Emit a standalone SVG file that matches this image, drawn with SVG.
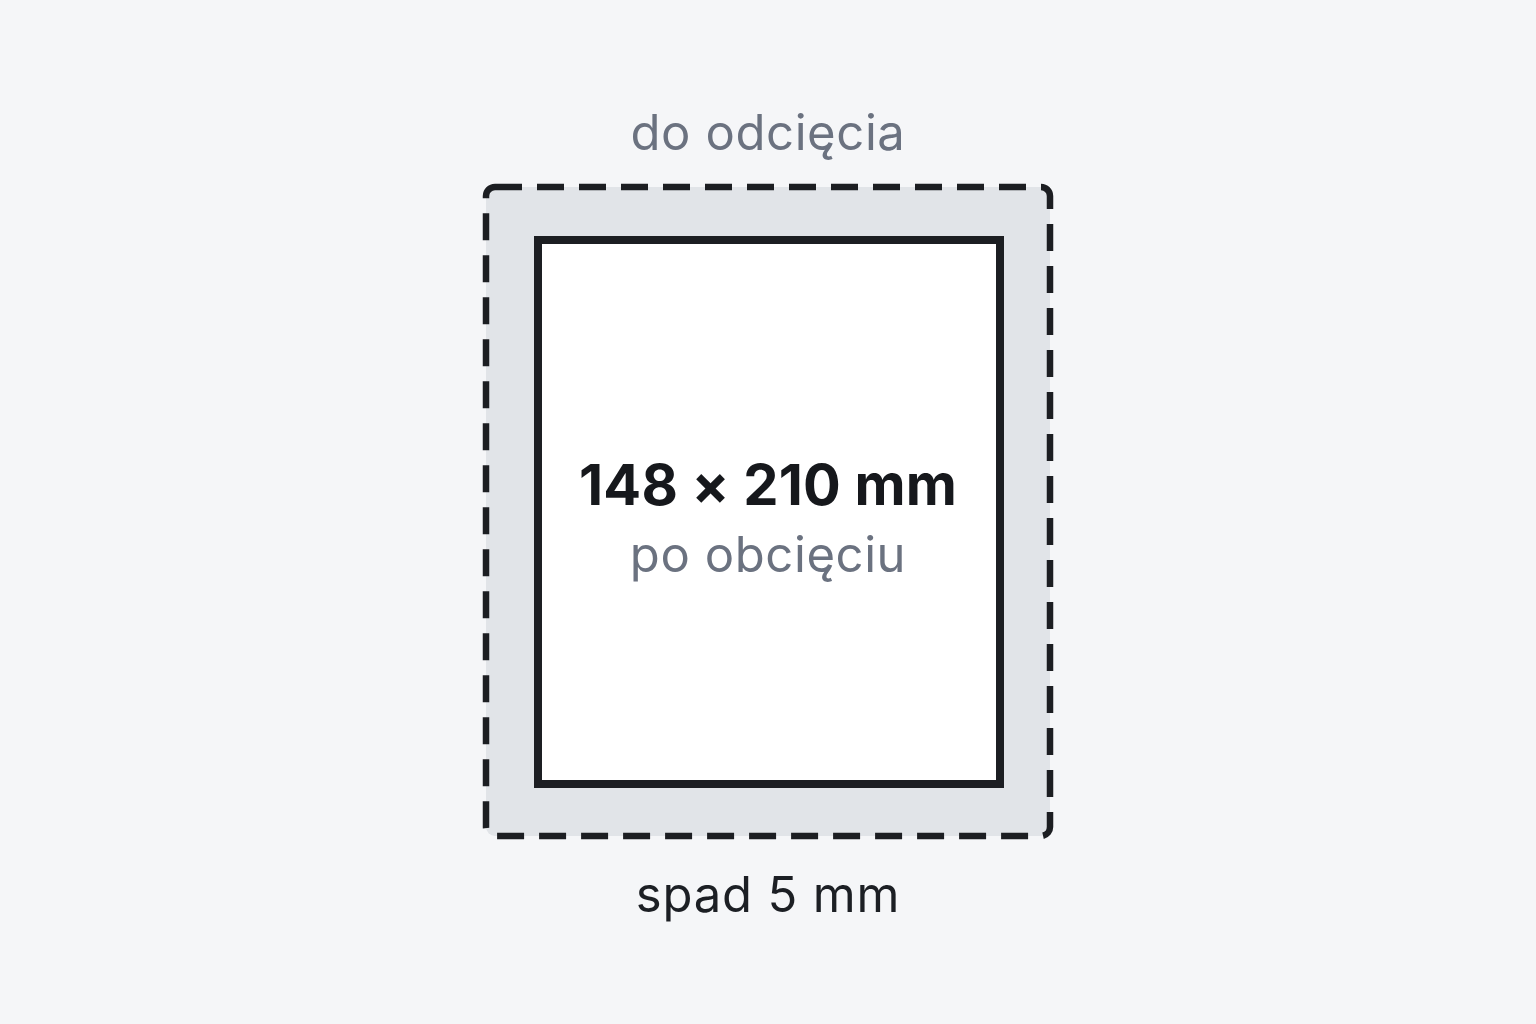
<svg xmlns="http://www.w3.org/2000/svg" width="1536" height="1024" viewBox="0 0 1536 1024">
<style>
.t{font-family:Inter,"Noto Sans","Liberation Sans",sans-serif;text-anchor:middle}
.g{fill:#6b7280;font-size:49px;letter-spacing:0.6px}
.d{fill:#1c1f24;font-size:49px;letter-spacing:0.8px}
.b{fill:#16181c;font-size:56px;font-weight:700;letter-spacing:0.2px}
</style>
<rect width="1536" height="1024" fill="#f5f6f8"/>
<g id="bleed">
<rect x="486" y="187" width="564" height="649" rx="9" fill="#e1e4e8" stroke="#1c1e22" stroke-width="6.5" stroke-dasharray="27 15"/>
</g>
<g id="trim">
<rect x="538" y="240" width="462" height="544" fill="#ffffff" stroke="#1c1e22" stroke-width="8"/>
</g>
<g id="labels">
<text class="t g" x="768" y="150">do odcięcia</text>
<text class="t b" x="768" y="505">148 × 210 mm</text>
<text class="t g" x="768" y="572">po obcięciu</text>
<text class="t d" x="768" y="912">spad 5 mm</text>
</g>
</svg>
